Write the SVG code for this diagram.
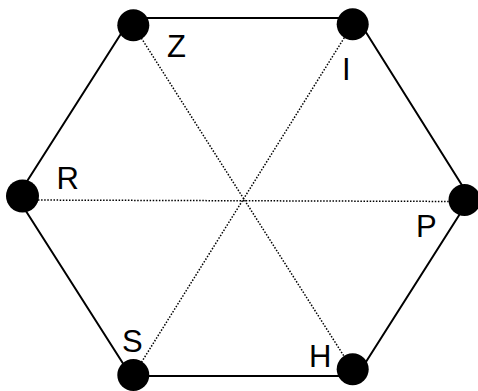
<svg xmlns="http://www.w3.org/2000/svg" width="478" height="391" viewBox="0 0 478 391">
<style>
.edge{stroke:#000;stroke-width:2;fill:none;stroke-linecap:round}
.diag{stroke:#000;stroke-width:1.5;fill:none;stroke-dasharray:1.5 1.6}
.dot{fill:#000}
.lbl{font-family:"Liberation Sans",Arial,sans-serif;font-size:31px;fill:#000}
</style>
<rect width="478" height="391" fill="#fff"/>
<g id="connectors">
<line class="edge" x1="131" y1="18" x2="357" y2="18"/>
<line class="edge" x1="357" y1="18" x2="470" y2="198"/>
<line class="edge" x1="470" y1="198" x2="357" y2="376"/>
<line class="edge" x1="357" y1="376" x2="131" y2="376"/>
<line class="edge" x1="131" y1="376" x2="17" y2="197"/>
<line class="edge" x1="17" y1="197" x2="131" y2="18"/>
<line class="diag" x1="133" y1="25" x2="352.5" y2="369.5"/>
<line class="diag" x1="352.5" y1="24.5" x2="133.5" y2="375"/>
<line class="diag" x1="22.5" y1="200" x2="464.5" y2="201.5"/>
</g>
<g id="node-Z"><circle class="dot" cx="133.3" cy="25.3" r="16"/><text class="lbl" x="167" y="56.5">Z</text></g>
<g id="node-I"><circle class="dot" cx="352.7" cy="24.3" r="16"/><text class="lbl" x="342" y="80">I</text></g>
<g id="node-P"><circle class="dot" cx="464.5" cy="200" r="16"/><text class="lbl" x="416" y="237.3">P</text></g>
<g id="node-H"><circle class="dot" cx="352.7" cy="369.3" r="16"/><text class="lbl" x="309" y="366.5">H</text></g>
<g id="node-S"><circle class="dot" cx="133.3" cy="375" r="16"/><text class="lbl" x="122" y="351.5">S</text></g>
<g id="node-R"><circle class="dot" cx="22.5" cy="196" r="16.5"/><text class="lbl" x="56.5" y="189.3">R</text></g>
</svg>
